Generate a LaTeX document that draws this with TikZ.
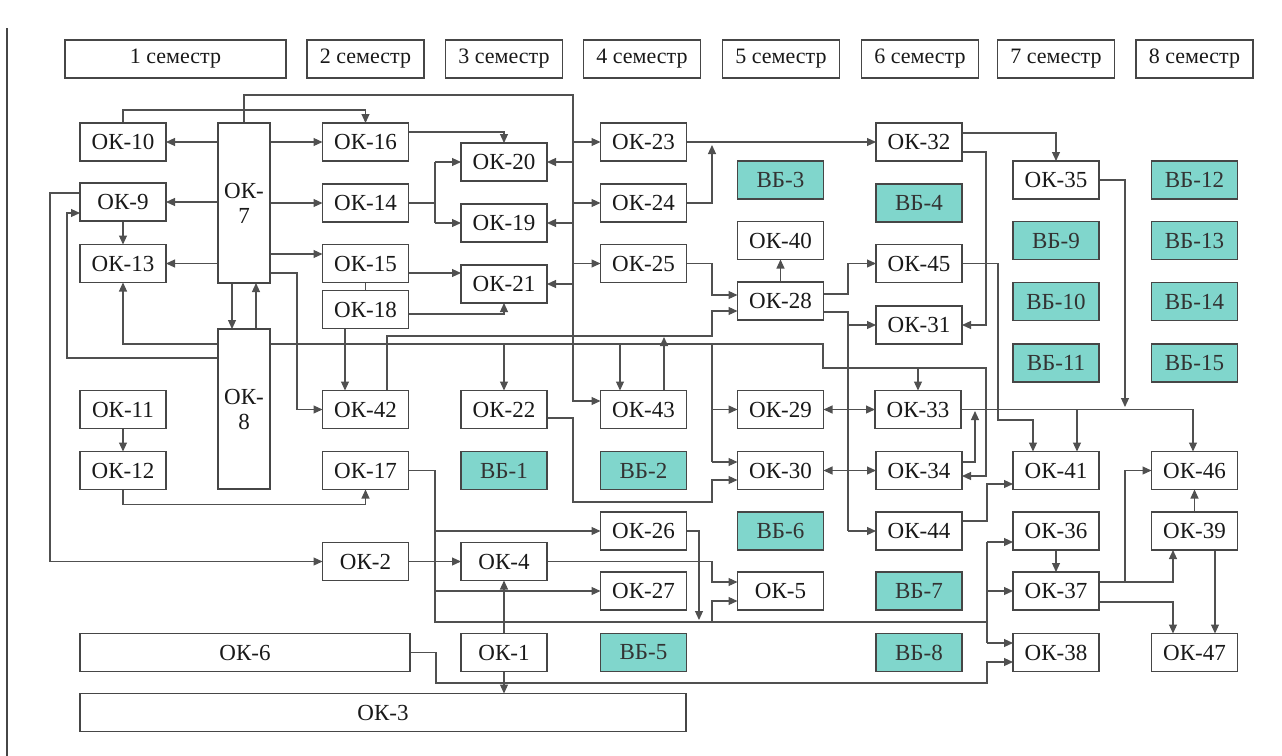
\documentclass[tikz,border=0pt]{standalone}
\usepackage{fontspec}
\setmainfont{Liberation Serif}
\usetikzlibrary{arrows.meta,calc,backgrounds}
\definecolor{vbteal}{RGB}{128,214,204}
\definecolor{boxline}{RGB}{70,70,70}
\definecolor{conline}{RGB}{80,80,80}
\begin{document}
\begin{tikzpicture}[x=0.5pt,y=-0.5pt,
  box/.style={draw=boxline, line width=0.75pt, fill=white, inner sep=0pt, outer sep=0pt,
              minimum width=43pt, minimum height=19pt, font=\fontsize{11.5}{12.5}\selectfont, text=black!90},
  vb/.style={box, fill=vbteal, text=black!80},
  hdr/.style={box, minimum width=58.5pt, font=\fontsize{11}{12.5}\selectfont},
  tall/.style={box, minimum width=26pt, minimum height=80pt, align=center},
  ln/.style={draw=conline, line width=0.55pt},
  ar/.style={ln, -{Triangle[length=4.5pt,width=4pt]}},
]
\useasboundingbox (0,0) rectangle (1282,756);
\draw[boxline, line width=0.6pt] (7,28) -- (7,756);

% semester headers
\node[hdr, minimum width=110.5pt] (s1) at (175.5,59) {1 семестр};
\node[hdr] (s2) at (365.5,59) {2 семестр};
\node[hdr] (s3) at (504,59) {3 семестр};
\node[hdr] (s4) at (642,59) {4 семестр};
\node[hdr] (s5) at (781,59) {5 семестр};
\node[hdr] (s6) at (920,59) {6 семестр};
\node[hdr] (s7) at (1056,59) {7 семестр};
\node[hdr] (s8) at (1194.5,59) {8 семестр};

% column 1
\node[box] (ok10) at (123,142) {ОК-10};
\node[box] (ok9) at (123,202) {ОК-9};
\node[box] (ok13) at (123,263.5) {ОК-13};
\node[box] (ok11) at (123,409.5) {ОК-11};
\node[box] (ok12) at (123,470.5) {ОК-12};
\node[tall] (ok7) at (244,203) {ОК-\\7};
\node[tall] (ok8) at (244,409) {ОК-\\8};
\node[box, minimum width=165pt] (ok6) at (245,652.5) {ОК-6};
\node[box, minimum width=303pt] (ok3) at (383,712.5) {ОК-3};

% column 2
\node[box] (ok16) at (365.5,142) {ОК-16};
\node[box] (ok14) at (365.5,203) {ОК-14};
\node[box] (ok15) at (365.5,263.5) {ОК-15};
\node[box] (ok18) at (365.5,309.5) {ОК-18};
\node[box] (ok42) at (365.5,409.5) {ОК-42};
\node[box] (ok17) at (365.5,470.5) {ОК-17};
\node[box] (ok2) at (365.5,561.5) {ОК-2};

% column 3
\node[box] (ok20) at (504,162) {ОК-20};
\node[box] (ok19) at (504,223) {ОК-19};
\node[box] (ok21) at (504,284) {ОК-21};
\node[box] (ok22) at (504,409.5) {ОК-22};
\node[vb] (vb1) at (504,470.5) {ВБ-1};
\node[box] (ok4) at (504,561.5) {ОК-4};
\node[box] (ok1) at (504,652.5) {ОК-1};

% column 4
\node[box] (ok23) at (643.5,142) {ОК-23};
\node[box] (ok24) at (643.5,203) {ОК-24};
\node[box] (ok25) at (643.5,263.5) {ОК-25};
\node[box] (ok43) at (643.5,409.5) {ОК-43};
\node[vb] (vb2) at (643.5,470.5) {ВБ-2};
\node[box] (ok26) at (643.5,531) {ОК-26};
\node[box] (ok27) at (643.5,591) {ОК-27};
\node[vb] (vb5) at (643.5,652.5) {ВБ-5};

% column 5
\node[vb] (vb3) at (780.5,180) {ВБ-3};
\node[box] (ok40) at (780.5,240.5) {ОК-40};
\node[box] (ok28) at (780.5,301) {ОК-28};
\node[box] (ok29) at (780.5,409.5) {ОК-29};
\node[box] (ok30) at (780.5,470.5) {ОК-30};
\node[vb] (vb6) at (780.5,531) {ВБ-6};
\node[box] (ok5) at (780.5,591) {ОК-5};

% column 6
\node[box] (ok32) at (919,142) {ОК-32};
\node[vb] (vb4) at (919,203) {ВБ-4};
\node[box] (ok45) at (919,263.5) {ОК-45};
\node[box] (ok31) at (919,325) {ОК-31};
\node[box] (ok33) at (918,409.5) {ОК-33};
\node[box] (ok34) at (919,470.5) {ОК-34};
\node[box] (ok44) at (919,531) {ОК-44};
\node[vb] (vb7) at (919,591) {ВБ-7};
\node[vb] (vb8) at (919,652.5) {ВБ-8};

% column 7
\node[box] (ok35) at (1056,180) {ОК-35};
\node[vb] (vb9) at (1056,240.5) {ВБ-9};
\node[vb] (vb10) at (1056,301.5) {ВБ-10};
\node[vb] (vb11) at (1056,363) {ВБ-11};
\node[box] (ok41) at (1056,470.5) {ОК-41};
\node[box] (ok36) at (1056,531) {ОК-36};
\node[box] (ok37) at (1056,591) {ОК-37};
\node[box] (ok38) at (1056,652.5) {ОК-38};

% column 8
\node[vb] (vb12) at (1194.5,180) {ВБ-12};
\node[vb] (vb13) at (1194.5,240.5) {ВБ-13};
\node[vb] (vb14) at (1194.5,301.5) {ВБ-14};
\node[vb] (vb15) at (1194.5,363) {ВБ-15};
\node[box] (ok46) at (1194.5,470.5) {ОК-46};
\node[box] (ok39) at (1194.5,531) {ОК-39};
\node[box] (ok47) at (1194.5,652.5) {ОК-47};

\begin{scope}[on background layer]
% OK-7 outputs
\draw[ar] (ok7.west |- ok10) -- (ok10.east);
\draw[ar] (ok7.west |- ok9) -- (ok9.east);
\draw[ar] (ok7.west |- ok13) -- (ok13.east);
\draw[ar] (ok7.east |- ok16) -- (ok16.west);
\draw[ar] (ok7.east |- ok14) -- (ok14.west);
\draw[ar] (ok7.east |- 0,254) -- (ok15.west |- 0,254);
\draw[ar] (ok7.east |- 0,273) -- (297,273) |- (ok42.west);
% OK-7 top bus
\draw[ar] (ok7.north) |- (573,95) -- (573,401) -- (ok43.west |- 0,401);
\draw[ar] (573,0 |- ok23) -- (ok23.west);
\draw[ar] (573,0 |- ok24) -- (ok24.west);
\draw[ar] (573,0 |- ok25) -- (ok25.west);
\draw[ar] (573,0 |- ok20) -- (ok20.east);
\draw[ar] (573,0 |- ok19) -- (ok19.east);
\draw[ar] (573,0 |- ok21) -- (ok21.east);
% column 1
\draw[ar] (ok10.north) -- ++(0,-13) -| (ok16.north);
\draw[ar] (ok9.south) -- (ok13.north);
\draw[ar] (ok9.west |- 0,193) -- (50,193) |- (ok2.west);
\draw[ar] (ok8.west |- 0,358) -- (67,358) |- (ok9.west |- 0,213);
\draw[ar] (ok8.west |- 0,344) -| (ok13.south);
\draw[ar] (ok7.south -| 232,0) -- (ok8.north -| 232,0);
\draw[ar] (ok8.north -| 256,0) -- (ok7.south -| 256,0);
\draw[ar] (ok11.south) -- (ok12.north);
\draw[ar] (ok12.south) -- ++(0,15) -| (ok17.south);
% OK-8 long line
\draw[ar] (ok8.east |- 0,344) -- (823,344) -- (823,368) -- (986,368) -- (986,476) -- (ok34.east |- 0,476);
\draw[ar] (ok22.north |- 0,344) -- (ok22.north);
\draw[ar] (620,344) -- (ok43.north -| 620,0);
\draw[ln] (712,344) -- (712,462);
\draw[ar] (712,0 |- ok29) -- (ok29.west);
\draw[ar] (712,462) -- (ok30.west |- 0,462);
\draw[ar] (ok33.north |- 0,368) -- (ok33.north);
% column 2
\draw[ar] (ok16.east |- 0,132) -| (ok20.north);
\draw[ln] (ok14.east) -- (435,0 |- ok14);
\draw[ln] (435,0 |- ok20) -- (435,0 |- ok19);
\draw[ar] (435,0 |- ok20) -- (ok20.west);
\draw[ar] (435,0 |- ok19) -- (ok19.west);
\draw[ar] (ok15.east |- 0,273) -- (ok21.west |- 0,273);
\draw[ln] (ok15.south) -- (ok18.north);
\draw[ar] (ok18.east |- 0,314) -| (ok21.south);
\draw[ar] (ok18.south -| 345,0) -- (ok42.north -| 345,0);
\draw[ar] (ok42.north -| 387,0) -- (387,336) -- (712,336) -- (712,311) -- (ok28.west |- 0,311);
\draw[ar] (ok43.north -| 664,0) -- (664,337);
\draw[ar] (ok22.east |- 0,418) -- (573,418) -- (573,502) -- (712,502) -- (712,480) -- (ok30.west |- 0,480);
% column 4
\draw[ar] (ok23.east) -- (ok32.west);
\draw[ar] (ok24.east) -- (712,0 |- ok24) -- (712,145);
\draw[ar] (ok25.east) -- (712,0 |- ok25) -- (712,295) -- (ok28.west |- 0,295);
% column 5
\draw[ar] (ok28.north) -- (ok40.south);
\draw[ar] (ok28.east |- 0,294) -- (848,294) |- (ok45.west);
\draw[ln] (ok28.east |- 0,312) -- (848,312) -- (848,0 |- ok44);
\draw[ar] (848,0 |- ok31) -- (ok31.west);
\draw[ar] (848,0 |- ok33) -- (ok33.west);
\draw[ar] (848,0 |- ok29) -- (ok29.east);
\draw[ar] (848,0 |- ok34) -- (ok34.west);
\draw[ar] (848,0 |- ok30) -- (ok30.east);
\draw[ar] (848,0 |- ok44) -- (ok44.west);
% column 6
\draw[ar] (ok32.east |- 0,133) -| (ok35.north);
\draw[ar] (ok32.east |- 0,152) -- (986,152) |- (ok31.east);
\draw[ar] (ok35.east) -- (1125,0 |- ok35) -- (1125,407);
\draw[ar] (ok33.east) -| (ok46.north -| 1193,0);
\draw[ar] (1077,0 |- ok33) -- (ok41.north -| 1077,0);
\draw[ar] (ok34.east |- 0,462) -- (975,462) -- (975,411);
\draw[ar] (ok45.east) -- (998,0 |- ok45) -- (998,420) -- (1033,420) -- (ok41.north -| 1033,0);
\draw[ar] (ok44.east |- 0,521) -- (987,521) -- (987,484) -- (ok41.west |- 0,484);
% OK-17 bus
\draw[ln] (ok17.east) -- (435,0 |- ok17) -- (435,622) -- (987,622);
\draw[ln] (987,542) -- (987,643);
\draw[ar] (987,542) -- (ok36.west |- 0,542);
\draw[ar] (987,0 |- ok37) -- (ok37.west);
\draw[ar] (987,643) -- (ok38.west |- 0,643);
\draw[ar] (435,0 |- ok26) -- (ok26.west);
\draw[ar] (435,0 |- ok27) -- (ok27.west);
\draw[ar] (712,622) -- (712,601) -- (ok5.west |- 0,601);
\draw[ar] (ok26.east) -- (699,0 |- ok26) -- (699,620);
\draw[ar] (ok4.east) -- (712,0 |- ok4) -- (712,582) -- (ok5.west |- 0,582);
\draw[ar] (ok2.east) -- (ok4.west);
\draw[ar] (ok1.north) -- (ok4.south);
\draw[ar] (ok1.south) -- (ok3.north -| ok1.south);
\draw[ar] (ok6.east) -- (436,0 |- ok6) -- (436,683) -- (987,683) -- (987,662) -- (ok38.west |- 0,662);
% columns 7-8
\draw[ar] (ok36.south) -- (ok37.north);
\draw[ar] (ok37.east |- 0,582) -- (1173,582) -- (ok39.south -| 1173,0);
\draw[ar] (1125,582) -- (1125,0 |- ok46) -- (ok46.west);
\draw[ar] (ok37.east |- 0,602) -- (1173,602) -- (ok47.north -| 1173,0);
\draw[ar] (ok39.south -| 1215,0) -- (ok47.north -| 1215,0);
\draw[ar] (ok39.north) -- (ok46.south);
\end{scope}
\end{tikzpicture}
\end{document}
